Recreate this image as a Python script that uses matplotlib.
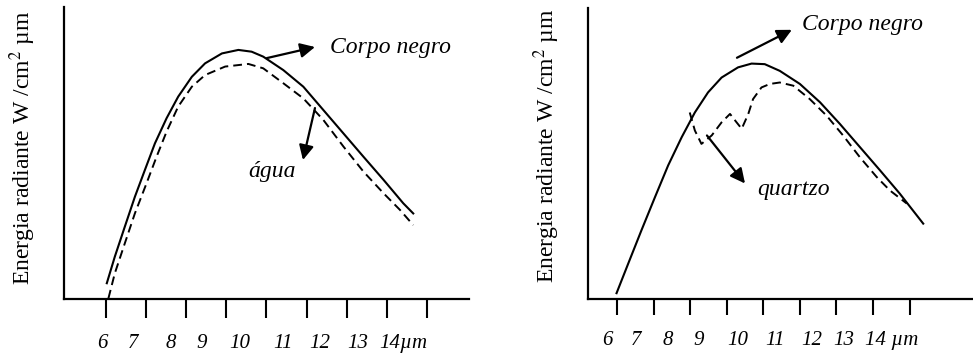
import matplotlib
matplotlib.use('Agg')
import matplotlib.pyplot as plt
import numpy as np

plt.rcParams['font.family'] = ['Liberation Serif', 'DejaVu Serif']
plt.rcParams['mathtext.fontset'] = 'stix'

# Eixo x: comprimento de onda (µm), eixo y: energia (unidades arbitrárias 0-100)
ticks = [6, 7, 8, 9, 10, 11, 12, 13, 14]

# Painel esquerdo: corpo negro x água
left_black_w = [6.02, 6.22, 6.47, 6.72, 6.97, 7.22, 7.51, 7.80, 8.14, 8.47, 8.89, 9.30, 9.63, 9.92,
                10.42, 10.92, 11.42, 11.92, 12.42, 12.92, 13.41, 13.66]
left_black_e = [5.4, 14.5, 24.8, 35.0, 44.2, 53.3, 61.9, 69.3, 76.1, 80.7, 84.1, 85.3, 84.7, 83.0,
                78.4, 72.7, 64.7, 56.7, 48.7, 40.8, 32.8, 29.3]
water_w = [6.06, 6.22, 6.47, 6.72, 7.01, 7.26, 7.51, 7.80, 8.14, 8.47, 8.97, 9.55, 9.92, 10.42,
           10.92, 11.42, 11.92, 12.42, 12.92, 13.33, 13.66]
water_e = [0.2, 8.8, 19.1, 29.3, 39.6, 48.7, 57.3, 65.9, 72.7, 76.7, 79.6, 80.5, 79.0, 73.9,
           68.7, 61.3, 52.2, 43.6, 36.2, 30.5, 25.3]
left_labels = ['6', '7', '8', '9', '10', '11', '12', '13', '14µm']
left_label_pos = [5.90, 6.67, 7.62, 8.39, 9.34, 10.41, 11.34, 12.28, 13.41]

# Painel direito: corpo negro x quartzo
right_black_w = [5.99, 6.31, 6.67, 7.04, 7.40, 7.77, 8.13, 8.49, 8.86, 9.31, 9.68, 10.04, 10.45,
                 11.00, 11.55, 12.09, 12.64, 13.19, 13.73, 14.37]
right_black_e = [2.0, 12.2, 23.6, 35.0, 45.9, 55.6, 64.1, 71.0, 76.1, 79.6, 80.9, 80.7, 78.4,
                 73.9, 67.6, 60.2, 52.2, 44.2, 36.2, 25.9]
quartz_w = [7.99, 8.13, 8.31, 8.59, 8.86, 9.09, 9.27, 9.41, 9.59, 9.72, 9.95, 10.18, 10.45, 10.82,
            11.27, 11.73, 12.18, 12.64, 13.10, 13.46, 13.92]
quartz_e = [64.1, 57.9, 53.3, 56.2, 60.7, 63.6, 60.7, 58.5, 63.6, 68.7, 72.7, 73.9, 74.4, 73.3,
            68.7, 63.0, 56.2, 48.7, 41.9, 37.3, 32.8]
right_labels = ['6', '7', '8', '9', '10', '11', '12', '13', '14 µm']
right_label_pos = [5.75, 6.52, 7.39, 8.24, 9.31, 10.32, 11.33, 12.20, 13.51]

ylabel = 'Energia radiante W /cm$^2$ µm'
dash = (0, (4.5, 2.6))
arrow = dict(arrowstyle='-|>', color='black', lw=1.6, mutation_scale=22, shrinkA=0, shrinkB=0)

fig = plt.figure(figsize=(9.73, 3.58), dpi=100)
ax1 = fig.add_axes([64 / 973, 59 / 358, 405 / 973, 292 / 358])
ax2 = fig.add_axes([588 / 973, 59 / 358, 385 / 973, 291 / 358])


def style_axis(ax, xlim, ticklen, labels, label_pos, label_y, ylab_x, ylab_y):
    for s in ['top', 'right']:
        ax.spines[s].set_visible(False)
    for s in ['left', 'bottom']:
        ax.spines[s].set_linewidth(1.6)
    ax.set_xlim(*xlim)
    ax.set_ylim(0, 100)
    ax.set_yticks([])
    ax.set_xticks(ticks)
    ax.set_xticklabels([])
    ax.tick_params(axis='x', direction='out', length=ticklen, width=1.5)
    for lab, pos in zip(labels, label_pos):
        ax.text(pos, label_y, lab, transform=ax.get_xaxis_transform(), ha='center', va='center',
                fontsize=15, style='italic')
    ax.text(ylab_x, ylab_y, ylabel, transform=ax.transAxes, rotation=90, ha='center', va='center',
            fontsize=17)


style_axis(ax1, (4.953, 15.05), 13.5, left_labels, left_label_pos, -0.151, -0.102, 0.517)
ax1.plot(left_black_w, left_black_e, color='black', lw=1.5, solid_joinstyle='round')
ax1.plot(water_w, water_e, color='black', lw=1.4, linestyle=dash)
ax1.annotate('', xy=(11.21, 86.3), xytext=(10.01, 82.5), arrowprops=arrow)
ax1.text(11.59, 86.0, 'Corpo negro', ha='left', va='center', fontsize=17, style='italic')
ax1.annotate('', xy=(10.91, 47.6), xytext=(11.21, 65.4), arrowprops=arrow)
ax1.text(10.14, 43.5, 'água', ha='center', va='center', fontsize=17, style='italic')

style_axis(ax2, (5.21, 15.73), 11.5, right_labels, right_label_pos, -0.141, -0.106, 0.526)
ax2.plot(right_black_w, right_black_e, color='black', lw=1.5, solid_joinstyle='round')
ax2.plot(quartz_w, quartz_e, color='black', lw=1.4, linestyle=dash)
ax2.annotate('', xy=(10.78, 92.5), xytext=(9.28, 82.9), arrowprops=arrow)
ax2.text(11.05, 94.5, 'Corpo negro', ha='left', va='center', fontsize=17, style='italic')
ax2.annotate('', xy=(9.50, 39.7), xytext=(8.46, 56.2), arrowprops=arrow)
ax2.text(9.83, 37.5, 'quartzo', ha='left', va='center', fontsize=17, style='italic')

fig.savefig('out.png', dpi=100)
